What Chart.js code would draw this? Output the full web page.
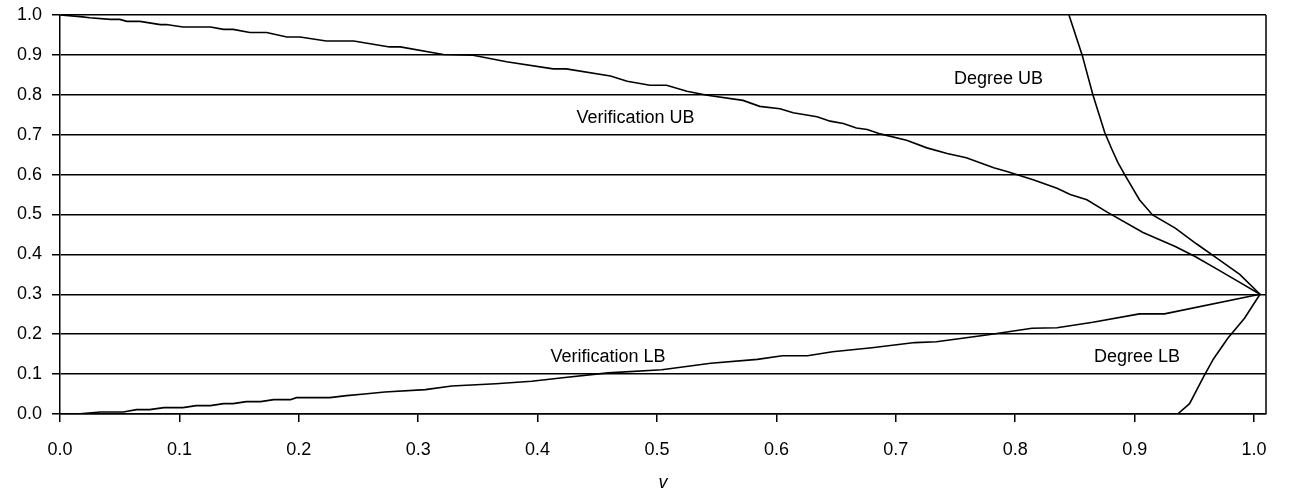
<!DOCTYPE html>
<html>
<head>
<meta charset="utf-8">
<script src="https://cdn.jsdelivr.net/npm/chart.js@4"></script>
<style>
  html, body { margin: 0; padding: 0; background: #fff; }
  #wrap { width: 1289px; height: 500px; }
</style>
</head>
<body>
<div id="wrap"><canvas id="boundsChart"></canvas></div>
<script>
// values
const xTickValues = [0.0, 0.1, 0.2, 0.3, 0.4, 0.5, 0.6, 0.7, 0.8, 0.9, 1.0];

const verifUbX = [0, 0.017, 0.025, 0.042, 0.050, 0.056, 0.067, 0.084, 0.089, 0.103, 0.126, 0.137, 0.145,
  0.159, 0.173, 0.19, 0.201, 0.223, 0.246, 0.276, 0.285, 0.321, 0.346, 0.374, 0.413, 0.424, 0.461,
  0.475, 0.494, 0.508, 0.525, 0.542, 0.572, 0.586, 0.603, 0.614, 0.634, 0.645, 0.656, 0.667, 0.676,
  0.687, 0.709, 0.726, 0.743, 0.759, 0.782, 0.793, 0.815, 0.835, 0.846, 0.86, 0.877, 0.907, 0.934,
  0.951, 0.969, 0.988, 1.005];
const verifUbY = [1.0, 0.996, 0.993, 0.989, 0.989, 0.984, 0.984, 0.976, 0.976, 0.970, 0.970, 0.964, 0.964,
  0.956, 0.956, 0.945, 0.945, 0.935, 0.935, 0.920, 0.920, 0.901, 0.899, 0.883, 0.865, 0.865, 0.847,
  0.834, 0.824, 0.824, 0.809, 0.799, 0.786, 0.771, 0.765, 0.755, 0.745, 0.734, 0.728, 0.717, 0.713,
  0.702, 0.686, 0.667, 0.653, 0.642, 0.617, 0.608, 0.587, 0.566, 0.550, 0.537, 0.506, 0.455, 0.420,
  0.394, 0.363, 0.330, 0.300];

const verifLbX = [0.014, 0.034, 0.053, 0.064, 0.075, 0.087, 0.103, 0.114, 0.126, 0.137, 0.145, 0.156,
  0.168, 0.179, 0.193, 0.198, 0.226, 0.24, 0.255, 0.272, 0.306, 0.328, 0.365, 0.395, 0.421, 0.459,
  0.504, 0.545, 0.584, 0.605, 0.626, 0.647, 0.680, 0.716, 0.734, 0.776, 0.814, 0.835, 0.865, 0.904,
  0.925, 1.005];
const verifLbY = [0.0, 0.005, 0.005, 0.011, 0.011, 0.016, 0.016, 0.021, 0.021, 0.026, 0.026, 0.031,
  0.031, 0.036, 0.036, 0.041, 0.041, 0.046, 0.050, 0.055, 0.061, 0.070, 0.076, 0.082, 0.091, 0.103,
  0.111, 0.127, 0.137, 0.146, 0.146, 0.156, 0.166, 0.179, 0.181, 0.198, 0.215, 0.216, 0.230, 0.251,
  0.251, 0.300];

const degreeUbX = [0.845, 0.856, 0.865, 0.875, 0.881, 0.886, 0.892, 0.904, 0.915, 0.934, 0.952, 0.970, 0.988, 1.005];
const degreeUbY = [1.0, 0.9, 0.8, 0.705, 0.663, 0.63, 0.598, 0.537, 0.499, 0.466, 0.426, 0.388, 0.350, 0.300];

const degreeLbX = [0.936, 0.946, 0.958, 0.966, 0.978, 0.992, 1.005];
const degreeLbY = [0.0, 0.026, 0.095, 0.138, 0.19, 0.24, 0.300];

const seriesNames = ['Verification UB', 'Verification LB', 'Degree UB', 'Degree LB'];

// where the curve names sit, in data units
const curveLabels = [
  { text: 'Verification UB', x: 0.482, y: 0.743 },
  { text: 'Degree UB', x: 0.786, y: 0.84 },
  { text: 'Verification LB', x: 0.459, y: 0.142 },
  { text: 'Degree LB', x: 0.902, y: 0.142 }
];

const FONT = '"Liberation Sans", Arial, sans-serif';
const FONT_SIZE = 18;

function toPoints(xs, ys) {
  return xs.map((x, i) => ({ x: x, y: ys[i] }));
}

function lineSet(name, xs, ys) {
  return {
    label: name,
    data: toPoints(xs, ys),
    borderColor: '#000',
    borderWidth: 1.6,
    pointRadius: 0,
    tension: 0,
    fill: false
  };
}

// text labels on the curves + right frame edge
const decorPlugin = {
  id: 'decor',
  afterDatasetsDraw(chart) {
    const { ctx, chartArea, scales } = chart;
    ctx.save();
    ctx.strokeStyle = '#000';
    ctx.lineWidth = 1.5;
    ctx.beginPath();
    const rx = Math.round(chartArea.right);
    ctx.moveTo(rx, chartArea.top);
    ctx.lineTo(rx, chartArea.bottom);
    ctx.stroke();

    ctx.fillStyle = '#000';
    ctx.font = FONT_SIZE + 'px ' + FONT;
    ctx.textAlign = 'center';
    ctx.textBaseline = 'middle';
    curveLabels.forEach(l => {
      ctx.fillText(l.text, scales.x.getPixelForValue(l.x), scales.y.getPixelForValue(l.y));
    });
    ctx.restore();
  }
};

const ctx = document.getElementById('boundsChart').getContext('2d');
new Chart(ctx, {
  type: 'line',
  data: {
    datasets: [
      lineSet(seriesNames[0], verifUbX, verifUbY),
      lineSet(seriesNames[1], verifLbX, verifLbY),
      lineSet(seriesNames[2], degreeUbX, degreeUbY),
      lineSet(seriesNames[3], degreeLbX, degreeLbY)
    ]
  },
  options: {
    responsive: true,
    maintainAspectRatio: false,
    animation: false,
    layout: { padding: { top: 15, right: 23, left: 0, bottom: 0 } },
    plugins: {
      legend: { display: false },
      tooltip: { enabled: false }
    },
    scales: {
      x: {
        type: 'linear',
        min: 0,
        max: 1.01,
        afterBuildTicks: s => { s.ticks = xTickValues.map(v => ({ value: v })); },
        afterFit: s => { s.height = 86; s.paddingLeft = 0; s.paddingRight = 0; },
        ticks: {
          autoSkip: false,
          maxRotation: 0,
          color: '#000',
          padding: 17,
          font: { family: FONT, size: FONT_SIZE },
          callback: v => Number(v).toFixed(1)
        },
        grid: { drawOnChartArea: false, color: '#000', tickLength: 8, lineWidth: 1.5 },
        border: { color: '#000', width: 1.5 },
        title: {
          display: true,
          text: 'v',
          color: '#000',
          padding: { top: 0, bottom: 6 },
          font: { family: FONT, size: FONT_SIZE, style: 'italic' }
        }
      },
      y: {
        min: 0,
        max: 1,
        afterFit: s => { s.width = 60; s.paddingTop = 0; s.paddingBottom = 0; },
        ticks: {
          stepSize: 0.1,
          color: '#000',
          padding: 10,
          font: { family: FONT, size: FONT_SIZE },
          callback: v => Number(v).toFixed(1)
        },
        grid: { color: '#000', tickLength: 8, lineWidth: 1.5 },
        border: { color: '#000', width: 1.5 }
      }
    }
  },
  plugins: [decorPlugin]
});
</script>
</body>
</html>
